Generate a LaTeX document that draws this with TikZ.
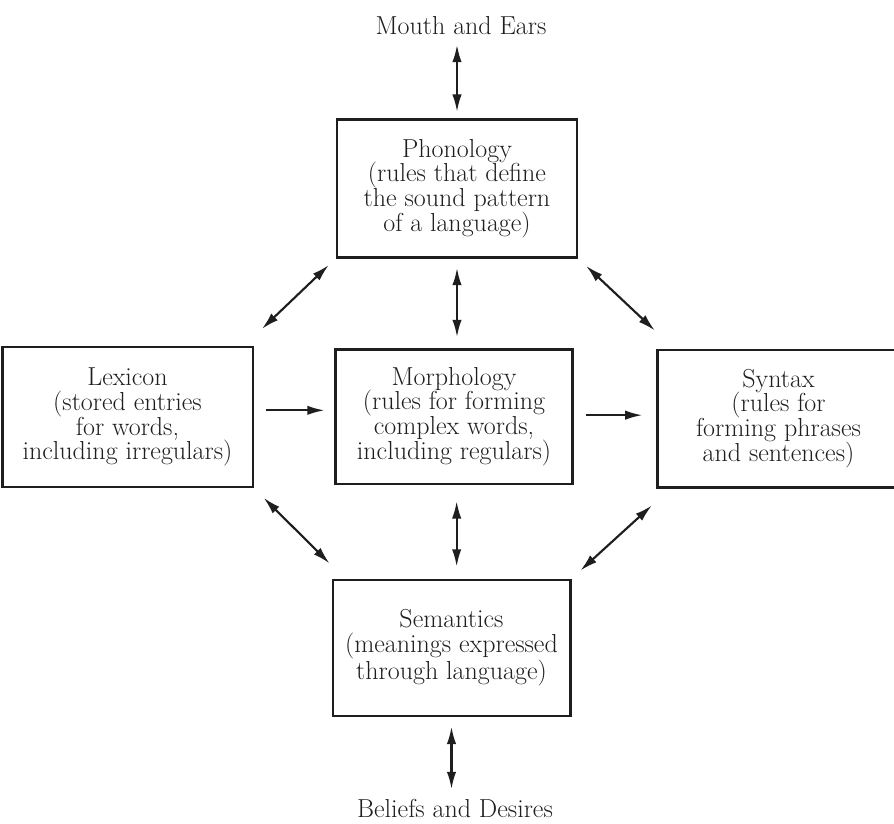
\documentclass[tikz,border=0pt]{standalone}
\usepackage{xcolor}
\usepackage{tikz}
\usetikzlibrary{positioning, arrows.meta, calc}
\definecolor{inkgrey}{HTML}{1E1E1E}

\begin{document}
\begin{tikzpicture}[x=0.75pt, y=-0.75pt,
    box/.style={draw=inkgrey, line width=2pt, align=center, text=inkgrey,
                font=\fontsize{19.5}{18.6}\selectfont, inner sep=0pt},
    lbl/.style={text=inkgrey, font=\fontsize{19.5}{18.6}\selectfont, inner sep=0pt},
    link/.style={draw=inkgrey, line width=1.6pt, {Latex[length=13pt, width=7pt]}-{Latex[length=13pt, width=7pt]}},
    fwd/.style={draw=inkgrey, line width=1.6pt, -{Latex[length=13pt, width=7pt]}}]
    \useasboundingbox (0,0) rectangle (894,824);

    \node[lbl] (ears) at (461,26) {Mouth and Ears};
    \node[lbl] (beliefs) at (455,808) {Beliefs and Desires};

    \node[box, minimum width=180pt, minimum height=103pt] (phon) at (457,188.5) {%
      Phonology\\(rules that define\\the sound pattern\\of a language)};
    \node[box, minimum width=188pt, minimum height=105pt] (lex) at (127.5,417) {%
      Lexicon\\(stored entries\\for words,\\including irregulars)};
    \node[box, minimum width=178pt, minimum height=101pt] (morph) at (454,416.5) {%
      Morphology\\(rules for forming\\complex words,\\including regulars)};
    \node[box, minimum width=182pt, minimum height=103pt] (syn) at (778.5,418.5) {%
      Syntax\\(rules for\\forming phrases\\and sentences)};
    \node[box, minimum width=178pt, minimum height=102pt] (sem) at (451.5,648) {%
      Semantics\\(meanings expressed\\through language)};

    % vertical spine
    \draw[link, shorten <=7pt, shorten >=5pt] (ears.south -| phon.north) -- (phon.north);
    \draw[link, shorten <=7pt, shorten >=8pt] (phon.south) -- (phon.south |- morph.north);
    \draw[link, shorten <=12pt, shorten >=9pt] ([xshift=2pt]morph.south) -- ([xshift=2pt]morph.south |- sem.north);
    \draw[link, shorten <=7pt, shorten >=7pt] (sem.south) -- (sem.south |- beliefs.north);

    % across the middle
    \draw[fwd, shorten <=9pt, shorten >=7pt] ([yshift=5pt]lex.east) -- ([yshift=5pt]lex.east -| morph.west);
    \draw[fwd, shorten <=9pt, shorten >=10pt] ([yshift=1pt]morph.east) -- ([yshift=1pt]morph.east -| syn.west);

    % diagonals
    \draw[link, shorten <=7pt, shorten >=8pt] (phon.south west) -- ([yshift=7pt]lex.north east);
    \draw[link, shorten <=8pt, shorten >=5pt] (phon.south east) -- ([xshift=3pt, yshift=10pt]syn.north west);
    \draw[link, shorten <=10pt, shorten >=2pt] (lex.south east) -- ([yshift=10pt]sem.north west);
    \draw[link, shorten <=4pt, shorten >=9pt] ([yshift=-10pt]syn.south west) -- (sem.north east);
  \end{tikzpicture}
\end{document}
